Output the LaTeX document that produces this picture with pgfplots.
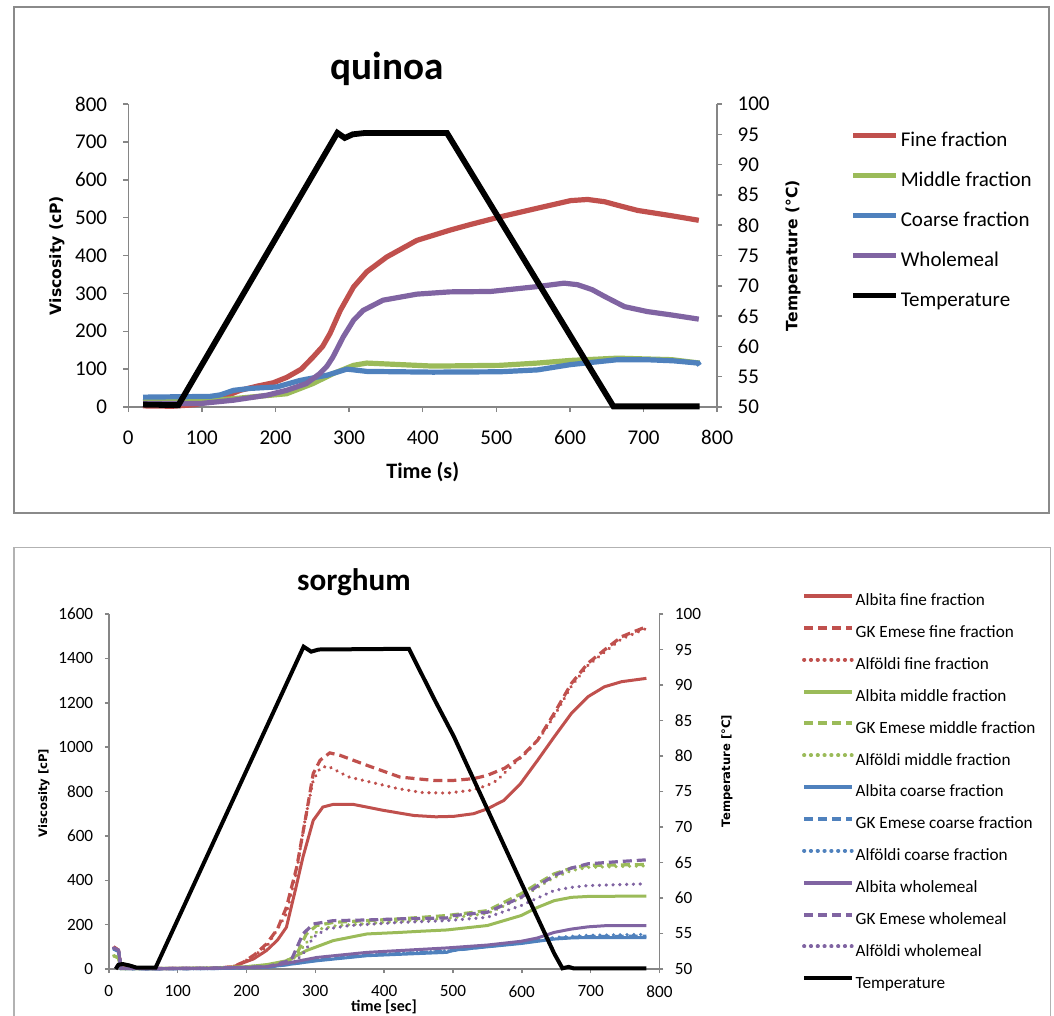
\documentclass[border=0pt]{standalone}
\usepackage{pgfplots}
\pgfplotsset{compat=1.18}
\usepackage{fontspec}
\setmainfont{Carlito}
\newfontfamily\dv{DejaVu Sans}
\definecolor{cred}{HTML}{C0504D}
\definecolor{cgreen}{HTML}{9BBB59}
\definecolor{cblue}{HTML}{4F81BD}
\definecolor{cpurple}{HTML}{8064A2}
\definecolor{axgray}{HTML}{868686}
\definecolor{framegray}{HTML}{8A8A8A}
\pgfplotsset{
  base/.style={scale only axis, clip=false, xmin=0, xmax=800,
    axis line style={axgray, line width=0.75pt},
    major tick style={axgray, line width=0.75pt},
    tick align=outside,
    /pgf/number format/assume math mode=true,
    /pgf/number format/1000 sep={},
  },
  topax/.style={base, at={(64.15pt,-203.5pt)}, anchor=south west,
    width=294.45pt, height=151.5pt, major tick length=2.5pt,
    tick label style={font=\fontsize{10.5}{12}\selectfont, inner sep=0pt},
    xticklabel style={yshift=-9pt},
  },
  botax/.style={base, at={(54.4pt,-484.5pt)}, anchor=south west,
    width=275.35pt, height=177.5pt, major tick length=2pt,
    tick label style={font=\fontsize{8.6}{10}\selectfont, inner sep=0pt},
    xticklabel style={yshift=-6pt},
  },
  sol/.style={line width=1.5pt},
  dsh/.style={line width=1.6pt, dash pattern=on 4.5pt off 2.5pt},
  dtt/.style={line width=1.7pt, line cap=round, dash pattern=on 0.1pt off 3.3pt},
}
\begin{document}
\begin{tikzpicture}
\path[use as bounding box] (0,0) rectangle (527pt,-508pt);
\draw[framegray, line width=1.1pt] (7pt,-3.5pt) rectangle (524.5pt,-256.35pt);
\draw[black!30, line width=0.7pt] (7pt,-273.85pt) rectangle (525.35pt,-540pt);
\node[anchor=base, font=\fontsize{19.6}{22}\bfseries\selectfont] at (193.5pt,-40pt) {quinoa};
\node[anchor=base, font=\fontsize{15.6}{18}\bfseries\selectfont] at (177pt,-295pt) {sorghum};

% ---------------- quinoa ----------------
\begin{axis}[topax,
  ymin=0, ymax=800, xtick={0,100,...,800}, ytick={0,100,...,800},
  axis x line*=bottom, axis y line*=left,
  yticklabel style={xshift=-7.9pt},
  xlabel={Time (s)}, ylabel={Viscosity (cP)},
  xlabel style={at={(axis description cs:0.5,-0.2376)}, anchor=base, font=\fontsize{11}{13}\bfseries\selectfont},
  ylabel style={at={(axis description cs:-0.1211,0.5)}, anchor=center, font=\dv\fontsize{7.8}{9}\bfseries\selectfont},
  legend style={at={(1.2255,0.9109)}, anchor=north west, draw=none, fill=none, inner sep=0pt,
    row sep=10pt, column sep=0.8pt, font=\fontsize{10.5}{12}\selectfont,
    nodes={inner sep=0pt, text height=7.5pt, text depth=2.5pt}},
  legend cell align=left,
  legend image code/.code={\draw[#1] (0pt,3pt) -- (21.5pt,3pt);},
  every axis plot/.append style={line width=2.6pt},
]
\addplot[cred] coordinates {(20,3) (60,2) (90,6) (110,14) (129,26) (152,44) (175,55) (197,64) (215,78) (235,100) (251,132) (264,160) (274,194) (288,255) (306,317) (324,357) (351,396) (392,440) (437,467) (465,482) (505,502) (556,525) (601,545) (624,548) (647,542) (670,530) (692,519) (738,505) (775,493)};
\addlegendentry{Fine fraction}
\addplot[cgreen] coordinates {(20,14) (120,18) (165,26) (215,35) (251,62) (278,88) (306,110) (324,116) (414,108) (505,110) (556,116) (601,123) (665,129) (700,127) (738,125) (776,116)};
\addlegendentry{Middle fraction}
\addplot[cblue] coordinates {(20,26) (111,28) (125,32) (143,44) (165,49) (202,53) (233,70) (270,84) (297,100) (324,94) (414,92) (505,93) (556,98) (601,112) (665,125) (702,125) (740,122) (774,116) (776,110)};
\addlegendentry{Coarse fraction}
\addplot[cpurple] coordinates {(20,9) (97,9) (143,18) (188,31) (215,44) (242,62) (260,88) (270,108) (278,132) (292,185) (306,229) (319,255) (346,282) (392,298) (437,304) (492,305) (556,318) (592,327) (610,323) (630,310) (647,292) (674,265) (705,252) (738,243) (775,232)};
\addlegendentry{Wholemeal}
\addlegendimage{black, line width=2.9pt}
\addlegendentry{Temperature}
\end{axis}
\begin{axis}[topax,
  ymin=50, ymax=100, ytick={50,55,...,100},
  axis x line=none, axis y line*=right,
  yticklabel style={xshift=7.5pt},
  ylabel={Temperature (°C)},
  ylabel style={at={(axis description cs:1.1287,0.5)}, anchor=center, font=\dv\fontsize{7.8}{9}\bfseries\selectfont},
]
\addplot[black, line width=2.9pt] coordinates {(20,50.4) (68,50.3) (284,95.25) (294,94.4) (305,95) (320,95.2) (433,95.2) (659,50.1) (776,50.1)};
\end{axis}

% ---------------- sorghum ----------------
\begin{axis}[botax,
  ymin=0, ymax=1600, xtick={0,100,...,800}, ytick={0,200,...,1600},
  axis x line*=bottom, axis y line*=left,
  yticklabel style={xshift=-5.6pt},
  xlabel={time [sec]}, ylabel={Viscosity [cP]},
  xlabel style={at={(axis description cs:0.4997,-0.1183)}, anchor=base, font=\fontsize{8}{9.5}\bfseries\selectfont},
  ylabel style={at={(axis description cs:-0.1177,0.4958)}, anchor=center, font=\dv\fontsize{5.8}{7}\bfseries\selectfont},
  legend style={at={(1.2582,1.0608)}, anchor=north west, draw=none, fill=none, inner sep=0pt,
    row sep=7.43pt, column sep=1pt, font=\fontsize{8.6}{10}\selectfont,
    nodes={inner sep=0pt, text height=6.5pt, text depth=2pt}},
  legend cell align=left,
  legend image code/.code={\draw[#1, line width=2pt] (-1pt,2.7pt) -- (22.8pt,2.7pt);},
]
\addplot[cred, sol] coordinates {(7,100) (14,85) (18,5) (60,2) (150,3) (180,8) (190,22) (210,45) (229,83) (245,130) (258,188) (272,369) (282,504) (297,670) (311,730) (326,742) (355,742) (399,715) (443,692) (475,686) (501,688) (530,700) (550,722) (574,760) (598,835) (623,941) (647,1046) (672,1152) (696,1227) (720,1272) (745,1295) (781,1310)};
\addlegendentry{Albita fine fraction}
\addplot[cred, dsh] coordinates {(7,100) (14,85) (18,5) (60,2) (150,3) (180,10) (195,30) (212,65) (229,113) (245,180) (258,278) (273,459) (287,700) (297,881) (307,941) (321,974) (336,963) (375,918) (423,865) (472,850) (501,850) (530,858) (550,873) (575,905) (599,956) (623,1031) (647,1152) (672,1287) (696,1378) (720,1438) (745,1498) (781,1543)};
\addlegendentry{GK Emese fine fraction}
\addplot[cred, dtt] coordinates {(7,95) (14,80) (18,5) (60,2) (150,3) (180,10) (195,30) (229,98) (258,248) (273,444) (285,670) (297,851) (307,905) (318,915) (348,866) (420,813) (456,795) (492,793) (528,806) (550,828) (564,850) (589,926) (610,985) (630,1060) (647,1140) (672,1275) (696,1368) (720,1428) (745,1488) (781,1535)};
\addlegendentry{Alföldi fine fraction}
\addplot[cgreen, sol] coordinates {(7,60) (14,50) (18,2) (60,2) (150,4) (200,10) (230,20) (258,37) (287,83) (326,128) (375,158) (423,165) (452,170) (491,176) (550,196) (599,241) (623,278) (647,308) (672,323) (696,327) (781,329)};
\addlegendentry{Albita middle fraction}
\addplot[cgreen, dsh] coordinates {(7,60) (14,50) (18,2) (60,2) (150,4) (200,10) (240,20) (265,45) (275,80) (287,158) (302,196) (326,210) (375,218) (423,226) (491,241) (550,263) (599,339) (623,385) (647,429) (672,455) (696,467) (781,471)};
\addlegendentry{GK Emese middle fraction}
\addplot[cgreen, dtt] coordinates {(7,60) (14,50) (18,2) (60,2) (150,4) (200,10) (240,20) (270,50) (290,130) (306,180) (330,195) (375,205) (423,215) (491,228) (550,250) (599,320) (623,368) (647,412) (672,443) (696,458) (781,465)};
\addlegendentry{Alföldi middle fraction}
\addplot[cblue, sol] coordinates {(7,90) (14,80) (18,2) (60,1) (150,2) (230,8) (260,20) (302,37) (375,60) (491,75) (501,85) (550,100) (599,115) (647,135) (672,140) (696,142) (781,142)};
\addlegendentry{Albita coarse fraction}
\addplot[cblue, dsh] coordinates {(7,90) (14,80) (18,2) (60,1) (150,2) (230,8) (260,20) (302,40) (375,62) (491,80) (550,102) (599,118) (647,138) (696,146) (781,148)};
\addlegendentry{GK Emese coarse fraction}
\addplot[cblue, dtt] coordinates {(7,90) (14,80) (18,2) (60,1) (150,2) (230,8) (260,22) (302,42) (375,64) (491,82) (550,104) (599,120) (647,142) (696,152) (781,156)};
\addlegendentry{Alföldi coarse fraction}
\addplot[cpurple, sol] coordinates {(7,95) (14,85) (18,3) (60,2) (150,3) (230,10) (277,37) (302,52) (375,75) (491,95) (550,108) (599,125) (623,140) (647,165) (672,180) (696,190) (720,195) (781,196)};
\addlegendentry{Albita wholemeal}
\addplot[cpurple, dsh] coordinates {(7,95) (14,85) (18,3) (60,2) (150,4) (230,10) (265,40) (282,158) (297,203) (326,218) (375,221) (423,226) (491,230) (501,241) (550,256) (599,323) (623,375) (647,421) (672,455) (696,474) (745,485) (781,492)};
\addlegendentry{GK Emese wholemeal}
\addplot[cpurple, dtt] coordinates {(7,95) (14,85) (18,3) (60,2) (150,4) (230,10) (270,30) (285,80) (297,143) (316,180) (350,196) (423,210) (491,218) (550,233) (599,286) (623,320) (647,354) (672,368) (696,376) (781,384)};
\addlegendentry{Alföldi wholemeal}
\addlegendimage{black, line width=2pt}
\addlegendentry{Temperature}
\end{axis}
\begin{axis}[botax,
  ymin=50, ymax=100, ytick={50,55,...,100},
  axis x line=none, axis y line*=right,
  yticklabel style={xshift=5.5pt},
  ylabel={Temperature [°C]},
  ylabel style={at={(axis description cs:1.1226,0.5577)}, anchor=center, font=\dv\fontsize{5.8}{7}\bfseries\selectfont},
]
\addplot[black, line width=2pt] coordinates {(10,50) (14,50.6) (20,50.7) (30,50.5) (40,50.2) (68,50.2) (283,95.4) (294,94.7) (305,95) (436,95.1) (450,92.4) (475,87.6) (501,82.8) (550,72.5) (598,62.4) (647,52.2) (659,50.1) (668,50.3) (675,50.1) (781,50.1)};
\end{axis}
\end{tikzpicture}
\end{document}
